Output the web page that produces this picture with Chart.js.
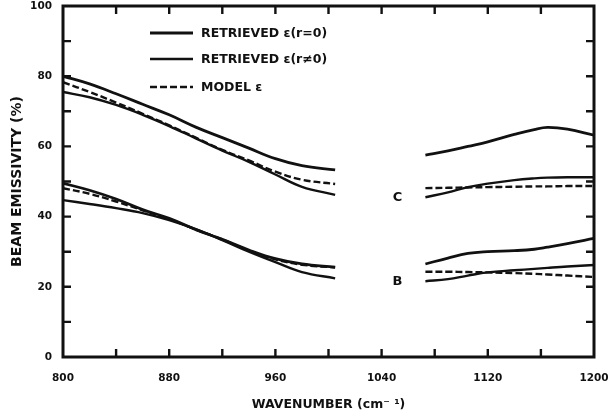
<!DOCTYPE html>
<html>
<head>
<meta charset="utf-8">
<script src="https://cdn.jsdelivr.net/npm/chart.js@4.4.1/dist/chart.umd.min.js"></script>
<style>
  html, body { margin: 0; padding: 0; background: #ffffff; }
  #wrap { width: 611px; height: 414px; position: relative; }
</style>
</head>
<body>
<div id="wrap"><canvas id="chart"></canvas></div>
<script>
// Wavenumbers (cm^-1) on each side of the 1005-1073 gap
const waveLeft  = [800, 820, 840, 860, 880, 900, 920, 940, 960, 980, 1005];
const waveRight = [1073, 1090, 1105, 1120, 1140, 1155, 1165, 1180, 1200];

// Curve C: beam emissivity (%)
const cRetrievedR0Left   = [80, 77.8, 75, 72, 69, 65.5, 62.5, 59.5, 56.5, 54.5, 53.3];
const cModelLeft         = [78.3, 75.5, 72.5, 69.3, 66, 62.5, 59, 56, 52.8, 50.5, 49.3];
const cRetrievedRnLeft   = [75.5, 74, 71.8, 69, 65.8, 62.3, 58.8, 55.6, 52, 48.5, 46.2];
const cRetrievedR0Right  = [57.5, 58.7, 60, 61.3, 63.4, 64.8, 65.4, 64.9, 63.2];
const cModelRight        = [48.1, 48.2, 48.3, 48.4, 48.5, 48.6, 48.6, 48.7, 48.7];
const cRetrievedRnRight  = [45.5, 46.9, 48.4, 49.4, 50.4, 50.9, 51.1, 51.2, 51.2];

// Curve B: beam emissivity (%)
const bRetrievedR0Left   = [49.5, 47.5, 45, 42, 39.5, 36.3, 33.5, 30.5, 28, 26.5, 25.6];
const bModelLeft         = [48.1, 46.5, 44.3, 41.8, 39.3, 36.3, 33.5, 30.3, 27.8, 26.3, 25.5];
const bRetrievedRnLeft   = [44.7, 43.6, 42.4, 41, 39, 36.4, 33.3, 30, 27, 24.2, 22.4];
const bRetrievedR0Right  = [26.5, 28.2, 29.5, 30, 30.3, 30.7, 31.3, 32.3, 33.8];
const bModelRight        = [24.3, 24.3, 24.2, 24.1, 23.9, 23.7, 23.5, 23.2, 22.8];
const bRetrievedRnRight  = [21.6, 22.2, 23.2, 24.1, 24.7, 25.1, 25.4, 25.8, 26.2];

// Axis ticks
const xLabelTicks = [800, 880, 960, 1040, 1120, 1200];
const xMinorTicks = [840, 880, 920, 960, 1000, 1040, 1080, 1120, 1160];
const yLabelTicks = [0, 20, 40, 60, 80, 100];
const yMinorTicks = [10, 20, 30, 40, 50, 60, 70, 80, 90];

const legendNames = ['RETRIEVED \u03B5(r=0)', 'RETRIEVED \u03B5(r\u22600)', 'MODEL \u03B5'];
const curveLabels = [{ text: 'C', x: 1052, y: 45.5 }, { text: 'B', x: 1052, y: 21.5 }];

const GAP_X = 1040;
function joinSides(left, right) {
  const pts = left.map((v, i) => ({ x: waveLeft[i], y: v }));
  pts.push({ x: GAP_X, y: null });
  right.forEach((v, i) => pts.push({ x: waveRight[i], y: v }));
  return pts;
}

const INK = '#111111';
const FONT = '"DejaVu Sans", "Liberation Sans", sans-serif';
const styles = [
  { borderWidth: 2.8, borderDash: [] },
  { borderWidth: 2.4, borderDash: [] },
  { borderWidth: 2.4, borderDash: [7, 3] }
];

function ds(data, kind) {
  return Object.assign({
    data: data,
    borderColor: INK,
    pointRadius: 0,
    tension: 0.4,
    spanGaps: false,
    fill: false
  }, styles[kind]);
}

const datasets = [
  ds(joinSides(cRetrievedR0Left, cRetrievedR0Right), 0),
  ds(joinSides(cRetrievedRnLeft, cRetrievedRnRight), 1),
  ds(joinSides(cModelLeft, cModelRight), 2),
  ds(joinSides(bRetrievedR0Left, bRetrievedR0Right), 0),
  ds(joinSides(bRetrievedRnLeft, bRetrievedRnRight), 1),
  ds(joinSides(bModelLeft, bModelRight), 2)
];

// Frame, inward tick marks, legend and curve letters
const decorations = {
  id: 'decorations',
  beforeDraw(chart) {
    const ctx = chart.ctx;
    ctx.save();
    ctx.fillStyle = '#ffffff';
    ctx.fillRect(0, 0, chart.width, chart.height);
    ctx.restore();
  },
  afterDraw(chart) {
    const { ctx, chartArea: a, scales } = chart;
    const xs = scales.x, ys = scales.y;
    ctx.save();
    ctx.strokeStyle = INK;
    ctx.lineWidth = 3;
    ctx.strokeRect(a.left, a.top, a.right - a.left, a.bottom - a.top);

    ctx.lineWidth = 2.4;
    const T = 8;
    ctx.beginPath();
    yMinorTicks.forEach(v => {
      const y = ys.getPixelForValue(v);
      ctx.moveTo(a.left, y); ctx.lineTo(a.left + T, y);
      ctx.moveTo(a.right, y); ctx.lineTo(a.right - T, y);
    });
    xMinorTicks.forEach(v => {
      const x = xs.getPixelForValue(v);
      ctx.moveTo(x, a.bottom); ctx.lineTo(x, a.bottom - T);
      ctx.moveTo(x, a.top); ctx.lineTo(x, a.top + T);
    });
    ctx.stroke();

    // Legend
    ctx.font = 'bold 12.5px ' + FONT;
    ctx.fillStyle = INK;
    ctx.textBaseline = 'middle';
    ctx.textAlign = 'left';
    const rows = [33, 59, 87];
    legendNames.forEach((name, i) => {
      const st = styles[i];
      ctx.lineWidth = st.borderWidth;
      ctx.setLineDash(st.borderDash);
      ctx.beginPath();
      ctx.moveTo(150, rows[i]);
      ctx.lineTo(193, rows[i]);
      ctx.stroke();
      ctx.setLineDash([]);
      ctx.fillText(name, 201, rows[i] + 0.5);
    });

    // Curve letters
    ctx.font = 'bold 13px ' + FONT;
    ctx.textAlign = 'center';
    curveLabels.forEach(l => {
      ctx.fillText(l.text, xs.getPixelForValue(l.x), ys.getPixelForValue(l.y));
    });
    ctx.restore();
  }
};

Chart.defaults.font.family = FONT;
Chart.defaults.font.weight = 'bold';
Chart.defaults.font.size = 10.5;
Chart.defaults.color = INK;

new Chart(document.getElementById('chart'), {
  type: 'line',
  data: { datasets },
  options: {
    responsive: true,
    maintainAspectRatio: false,
    animation: false,
    events: [],
    layout: { padding: { left: 0, top: 6, right: 17, bottom: 0 } },
    plugins: { legend: { display: false }, tooltip: { enabled: false } },
    scales: {
      x: {
        type: 'linear',
        min: 800, max: 1200,
        afterBuildTicks(scale) { scale.ticks = xLabelTicks.map(v => ({ value: v })); },
        afterFit(scale) { scale.height = 57; scale.paddingLeft = 0; scale.paddingRight = 0; },
        grid: { display: false, drawTicks: false },
        border: { display: false },
        ticks: {
          padding: 15, maxRotation: 0, autoSkip: false,
          font: { size: 10.5, weight: 'bold' },
          callback: v => String(v)
        },
        title: {
          display: true,
          text: 'WAVENUMBER (cm\u207B \u00B9)',
          font: { size: 12.5, weight: 'bold' },
          padding: { top: 0, bottom: 2 }
        }
      },
      y: {
        min: 0, max: 100,
        afterBuildTicks(scale) { scale.ticks = yLabelTicks.map(v => ({ value: v })); },
        afterFit(scale) { scale.width = 63; scale.paddingTop = 0; scale.paddingBottom = 0; },
        grid: { display: false, drawTicks: false },
        border: { display: false },
        ticks: { padding: 11, font: { size: 10.5, weight: 'bold' }, callback: v => String(v) },
        title: {
          display: true,
          text: 'BEAM EMISSIVITY (%)',
          font: { size: 14, weight: 'bold' },
          padding: { top: 9, bottom: 0 }
        }
      }
    }
  },
  plugins: [decorations]
});
</script>
</body>
</html>
